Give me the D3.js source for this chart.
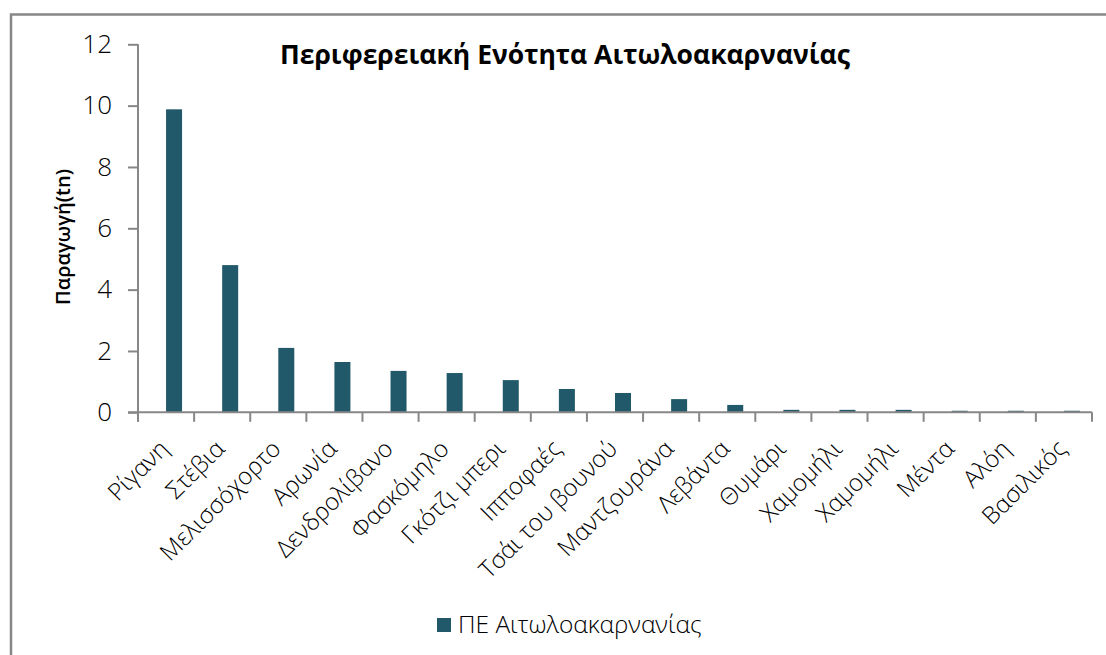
<!DOCTYPE html>
<html>
<head>
<meta charset="utf-8">
<script src="https://cdn.jsdelivr.net/npm/d3@7"></script>
<style>
  html, body { margin: 0; padding: 0; background: #fff; }
  svg { display: block; }
  text { font-family: "Open Sans", "Noto Sans", sans-serif; }
</style>
</head>
<body>
<svg id="chart" width="1106" height="655"></svg>
<script>
// Herb production per species, Regional Unit of Aitoloakarnania (tonnes)
const categories = [
  "Ρίγανη", "Στέβια", "Μελισσόχορτο", "Αρωνία", "Δενδρολίβανο", "Φασκόμηλο",
  "Γκότζι μπερι", "Ιπποφαές", "Τσάι του βουνού", "Μαντζουράνα", "Λεβάντα",
  "Θυμάρι", "Χαμομήλι", "Χαμομήλι", "Μέντα", "Αλόη", "Βασιλικός"
];
const production = [9.88, 4.8, 2.1, 1.64, 1.35, 1.28, 1.05, 0.76, 0.63, 0.43, 0.24,
                     0.08, 0.08, 0.08, 0.05, 0.05, 0.05];
const yTicks = [0, 2, 4, 6, 8, 10, 12];
const seriesName = "ΠΕ Αιτωλοακαρνανίας";
const chartTitle = "Περιφερειακή Ενότητα Αιτωλοακαρνανίας";
const yTitle = "Παραγωγή(tn)";

const barColor = "#22596a";
const axisColor = "#878787";

const svg = d3.select("#chart");

// chart area frame
svg.append("rect")
  .attr("x", 11).attr("y", 14.5)
  .attr("width", 1200).attr("height", 700)
  .attr("fill", "none").attr("stroke", axisColor).attr("stroke-width", 2.5);

const plot = { left: 138, right: 1092, top: 44.3, bottom: 412.3 };

// indices keep the two "Χαμομήλι" entries separate
const idx = categories.map((_, i) => i);
const x = d3.scaleBand().domain(idx).range([plot.left, plot.right]).paddingInner(0).paddingOuter(0);
const y = d3.scaleLinear().domain([0, 12]).range([plot.bottom, plot.top]);
const barW = 16;

// bars
svg.append("g").selectAll("rect")
  .data(idx)
  .join("rect")
  .attr("x", i => x(i) + x.bandwidth() / 2)
  .attr("width", barW)
  .attr("y", i => y(production[i]))
  .attr("height", i => y(0) - y(production[i]))
  .attr("fill", barColor);

// y axis
const yAxis = d3.axisLeft(y).tickValues(yTicks).tickSize(10).tickSizeOuter(0).tickPadding(16);
const gy = svg.append("g").attr("transform", `translate(${plot.left},0)`).call(yAxis);
gy.select(".domain").attr("stroke", axisColor).attr("stroke-width", 2)
  .attr("d", `M0,${plot.top}V${plot.bottom + 9.5}`);
gy.selectAll(".tick line").attr("stroke", axisColor).attr("stroke-width", 2);
gy.selectAll(".tick text")
  .attr("fill", "#000").attr("font-size", 26).attr("font-weight", 300)
  .style("font-family", "'Open Sans', sans-serif");

// x axis line with tick marks on category boundaries
const gx = svg.append("g");
gx.append("line")
  .attr("x1", plot.left - 10).attr("x2", plot.right)
  .attr("y1", y(0)).attr("y2", y(0))
  .attr("stroke", axisColor).attr("stroke-width", 2);
const bounds = idx.map(i => x(i)).concat([x.range()[1]]);
gx.selectAll("line.b")
  .data(bounds)
  .join("line")
  .attr("class", "b")
  .attr("x1", d => d).attr("x2", d => d)
  .attr("y1", y(0)).attr("y2", y(0) + 9.5)
  .attr("stroke", axisColor).attr("stroke-width", 2);

// rotated category labels
gx.selectAll("text.cat")
  .data(idx)
  .join("text")
  .attr("class", "cat")
  .attr("transform", i => `translate(${x(i) + x.bandwidth() / 2 - 8},${y(0) + 26}) rotate(-45)`)
  .attr("text-anchor", "end")
  .attr("dy", "0.7em")
  .attr("font-size", 24)
  .attr("font-weight", 300)
  .attr("fill", "#000")
  .text(i => categories[i]);

// title
svg.append("text")
  .attr("x", 565).attr("y", 64)
  .attr("text-anchor", "middle")
  .attr("font-size", 26.5).attr("font-weight", 700)
  .attr("fill", "#000")
  .text(chartTitle);

// y axis title
svg.append("text")
  .attr("transform", "translate(70,237) rotate(-90)")
  .attr("text-anchor", "middle")
  .attr("font-size", 20).attr("font-weight", 600)
  .attr("fill", "#000")
  .text(yTitle);

// legend
const lg = svg.append("g").attr("transform", "translate(437,618)");
lg.append("rect").attr("width", 14).attr("height", 14).attr("fill", barColor);
lg.append("text")
  .attr("x", 21).attr("y", 14.5)
  .attr("font-size", 24.5).attr("font-weight", 300)
  .attr("fill", "#000")
  .text(seriesName);
</script>
</body>
</html>
